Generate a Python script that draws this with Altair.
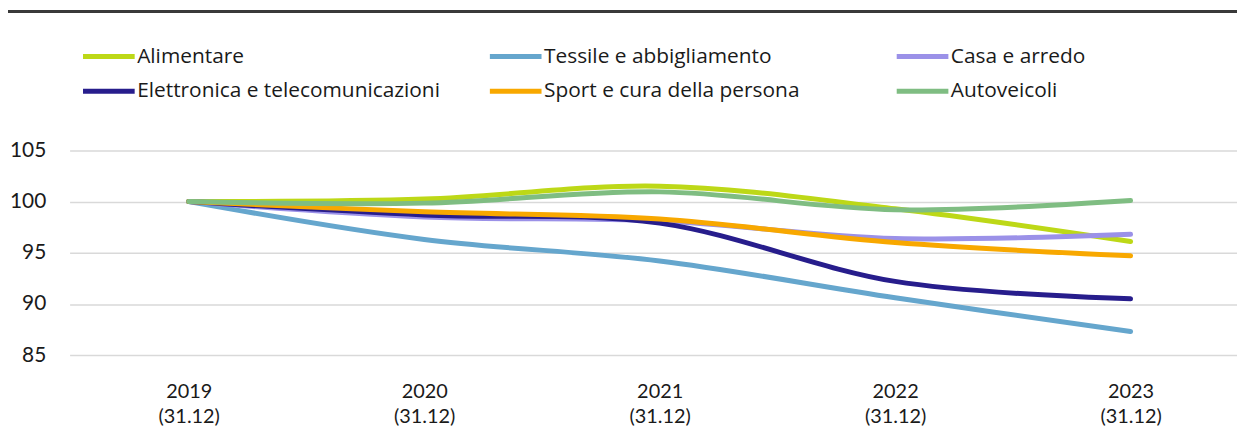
import altair as alt
import pandas as pd

years = [2019, 2020, 2021, 2022, 2023]
date_label = "(31.12)"
series = [
    "Alimentare",
    "Tessile e abbigliamento",
    "Casa e arredo",
    "Elettronica e telecomunicazioni",
    "Sport e cura della persona",
    "Autoveicoli",
]
colors = ["#BDD817", "#65A6CD", "#9B91E8", "#271D8C", "#F8A800", "#7FBD82"]

alimentare = [100, 100.25, 101.5, 99.3, 96.1]
tessile = [100, 96.3, 94.2, 90.6, 87.3]
casa = [100, 98.5, 98.1, 96.4, 96.8]
elettronica = [100, 98.7, 97.9, 92.2, 90.5]
sport = [100, 99.0, 98.3, 96.0, 94.7]
autoveicoli = [100, 99.85, 100.95, 99.2, 100.1]

y_ticks = [85, 90, 95, 100, 105]

values = [alimentare, tessile, casa, elettronica, sport, autoveicoli]
rows = []
for i, (name, vals) in enumerate(zip(series, values)):
    for yr, v in zip(years, vals):
        rows.append({"anno": yr, "serie": name, "valore": v, "ord": i})
df = pd.DataFrame(rows)

LEG_FONT = "Open Sans"
AX_FONT = "Lato"
TXT = "#1a1a1a"

x_scale = alt.Scale(domain=[2018.494, 2023.452], nice=False, zero=False)


def x_axis(pad, expr):
    return alt.Axis(
        orient="bottom",
        values=years,
        title=None,
        grid=False,
        domain=False,
        ticks=False,
        labelFont=AX_FONT,
        labelFontSize=20,
        labelColor=TXT,
        labelPadding=pad,
        labelExpr=expr,
        format="d",
    )


lines = alt.Chart(df).mark_line(
    strokeWidth=5, strokeCap="round", interpolate="cardinal"
).encode(
    x=alt.X("anno:Q", scale=x_scale, axis=x_axis(27, "datum.label")),
    y=alt.Y(
        "valore:Q",
        scale=alt.Scale(domain=[85, 105], nice=False, zero=False),
        axis=alt.Axis(
            values=y_ticks,
            title=None,
            domain=False,
            ticks=False,
            gridColor="#d9d9d9",
            gridWidth=1.5,
            labelFont=AX_FONT,
            labelFontSize=21,
            labelColor=TXT,
            labelPadding=24,
        ),
    ),
    color=alt.Color(
        "serie:N",
        scale=alt.Scale(domain=series, range=colors),
        legend=alt.Legend(
            orient="none",
            legendX=11,
            legendY=-105,
            columns=3,
            direction="horizontal",
            title=None,
            symbolType="stroke",
            symbolSize=2704,
            symbolStrokeWidth=5,
            clipHeight=21,
            labelFont=LEG_FONT,
            labelFontSize=21,
            labelColor=TXT,
            labelOffset=0,
            labelLimit=500,
            columnPadding=47.5,
            rowPadding=13,
            gridAlign="all",
            padding=0,
        ),
    ),
    order=alt.Order("anno:Q"),
    detail="ord:O",
)

date_axis = alt.Chart(df).mark_point(opacity=0).encode(
    x=alt.X("anno:Q", scale=x_scale, axis=x_axis(51.5, "'" + date_label + "'")),
)

top_rule = alt.Chart(df).mark_rule(color="#3a3a3a", strokeWidth=2).encode(
    x=alt.value(-62), x2=alt.value(1175), y=alt.value(-140)
)

chart = (
    alt.layer(lines, date_axis, top_rule)
    .resolve_scale(x="shared")
    .resolve_axis(x="independent")
    .properties(
        width=1175,
        height=206,
        padding={"left": 62, "top": 142, "right": 0, "bottom": 70},
        autosize=alt.AutoSizeParams(type="none"),
    )
    .configure_view(stroke=None)
)

chart.save("out.html", embed_options={"renderer": "svg", "actions": False})
